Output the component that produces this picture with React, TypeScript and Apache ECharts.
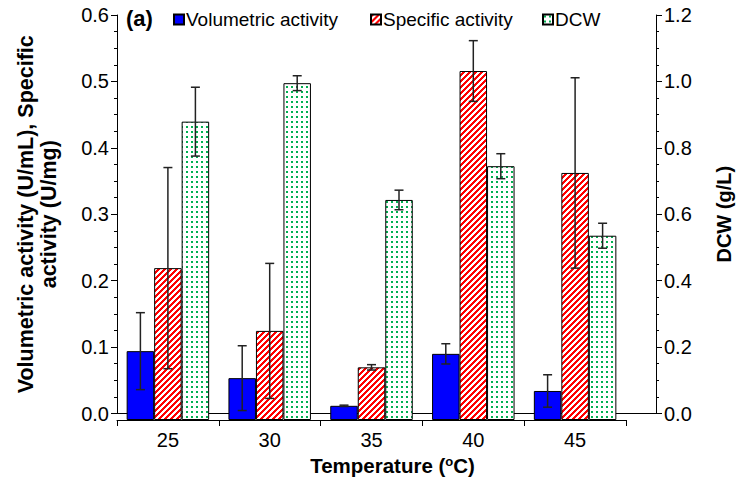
import React, { useEffect, useRef } from "react";
import * as echarts from "echarts";

const temperatures = ["25", "30", "35", "40", "45"];
const volumetric = [0.102, 0.062, 0.021, 0.098, 0.043];
const volumetricErr = [0.057, 0.048, 0.001, 0.015, 0.024];
const specific = [0.225, 0.132, 0.078, 0.517, 0.366];
const specificErr = [0.149, 0.1, 0.004, 0.045, 0.141];
const dcw = [0.884, 0.998, 0.652, 0.752, 0.546];
const dcwErr = [0.102, 0.022, 0.029, 0.037, 0.037];
const seriesNames = ["Volumetric activity", "Specific activity", "DCW"];
const leftTicks = { min: 0, max: 0.6, interval: 0.1 };
const rightTicks = { min: 0, max: 1.2, interval: 0.2 };

const FONT = "Liberation Sans, Arial, sans-serif";
const BAR_W = 27.5;

function stripeTile() {
  const p = 6;
  const c = document.createElement("canvas");
  c.width = p;
  c.height = p;
  const ctx = c.getContext("2d")!;
  ctx.fillStyle = "#ffffff";
  ctx.fillRect(0, 0, p, p);
  ctx.fillStyle = "#ff0000";
  for (let x = 0; x < p; x++) {
    for (let y = 0; y < p; y++) {
      if ((x + y) % p < 3) ctx.fillRect(x, y, 1, 1);
    }
  }
  return { image: c, repeat: "repeat", imageWidth: p, imageHeight: p };
}

function dotTile() {
  const p = 5;
  const c = document.createElement("canvas");
  c.width = p;
  c.height = p;
  const ctx = c.getContext("2d")!;
  ctx.fillStyle = "#ffffff";
  ctx.fillRect(0, 0, p, p);
  ctx.fillStyle = "#00b050";
  ctx.fillRect(1, 1, 2, 2);
  return { image: c, repeat: "repeat", imageWidth: p, imageHeight: p };
}

export default function App() {
  const ref = useRef<HTMLDivElement>(null);
  useEffect(() => {
    if (!ref.current) return;
    const chart = echarts.init(ref.current, null, { renderer: "svg" });

    const errSeries = (name: string, vals: number[], errs: number[], offset: number, yIdx: number) => ({
      type: "custom",
      name: name + "_err",
      xAxisIndex: 1,
      yAxisIndex: yIdx,
      z: 10,
      silent: true,
      data: vals.map((v, i) => [i, v, errs[i]]),
      renderItem: (params: any, api: any) => {
        const x = api.value(0);
        const v = api.value(1);
        const e = api.value(2);
        const top = api.coord([x, v + e]);
        const bot = api.coord([x, v - e]);
        const cx = top[0] + offset;
        const cap = 4.5;
        const st = { stroke: "#222", lineWidth: 1.5 };
        return {
          type: "group",
          children: [
            { type: "line", shape: { x1: cx, y1: top[1], x2: cx, y2: bot[1] }, style: st },
            { type: "line", shape: { x1: cx - cap, y1: top[1], x2: cx + cap, y2: top[1] }, style: st },
            { type: "line", shape: { x1: cx - cap, y1: bot[1], x2: cx + cap, y2: bot[1] }, style: st },
          ],
        };
      },
    });

    const axisLabelStyle = { color: "#000", fontSize: 20, fontFamily: FONT };
    const lineStyle = { color: "#000", width: 1 };
    const legendLefts = [173, 370, 542];

    chart.setOption({
      animation: false,
      textStyle: { fontFamily: FONT },
      grid: [
        { left: 117, right: 78, top: 15, bottom: 61 },
        { left: 117, width: 509, top: 15, bottom: 61 },
      ],
      legend: seriesNames.map((n, i) => ({
        data: [n],
        left: legendLefts[i],
        top: 10,
        padding: 0,
        itemWidth: 10,
        itemHeight: 10,
        icon: "rect",
        textStyle: { color: "#000", fontSize: 19, fontFamily: FONT, padding: [0, 0, 0, -3] },
      })),
      graphic: [
        {
          type: "text",
          left: 126,
          top: 7,
          style: { text: "(a)", fontSize: 22, fontWeight: "bold", fontFamily: FONT, fill: "#000" },
        },
      ],
      xAxis: [
        {
          gridIndex: 0,
          type: "value",
          min: 0,
          max: 1,
          axisLine: { show: true, lineStyle },
          axisTick: { show: false },
          axisLabel: { show: false },
          splitLine: { show: false },
          name: "{a|Temperature (}{s|o}{a|C)}",
          nameLocation: "middle",
          nameGap: 41,
          nameTextStyle: {
            padding: [0, 0, 0, 12],
            rich: {
              a: { fontSize: 20.5, fontWeight: "bold", fontFamily: FONT, color: "#000" },
              s: { fontSize: 13, fontWeight: "bold", fontFamily: FONT, color: "#000", verticalAlign: "top", padding: [0, 0, 9, 0] },
            },
          },
        },
        {
          gridIndex: 1,
          type: "category",
          data: temperatures,
          axisLine: { show: true, lineStyle },
          axisTick: { show: true, length: 6, lineStyle },
          axisLabel: { ...axisLabelStyle, margin: 10 },
          splitLine: { show: false },
        },
      ],
      yAxis: [
        {
          gridIndex: 0,
          type: "value",
          position: "left",
          min: leftTicks.min,
          max: leftTicks.max,
          interval: leftTicks.interval,
          axisLine: { show: true, lineStyle },
          axisTick: { show: true, length: 6, lineStyle },
          minorTick: { show: true, splitNumber: 4, length: 3, lineStyle },
          splitLine: { show: false },
          axisLabel: { ...axisLabelStyle, margin: 8, formatter: (v: number) => v.toFixed(1) },
          name: "Volumetric activity (U/mL), Specific\nactivity (U/mg)",
          nameLocation: "middle",
          nameGap: 57,
          nameTextStyle: { fontSize: 21.5, fontWeight: "bold", fontFamily: FONT, color: "#000", lineHeight: 23 },
        },
        {
          gridIndex: 0,
          type: "value",
          position: "right",
          min: rightTicks.min,
          max: rightTicks.max,
          interval: rightTicks.interval,
          axisLine: { show: true, lineStyle },
          axisTick: { show: true, length: 6, lineStyle },
          minorTick: { show: true, splitNumber: 4, length: 3, lineStyle },
          splitLine: { show: false },
          axisLabel: { ...axisLabelStyle, margin: 8, formatter: (v: number) => v.toFixed(1) },
          name: "DCW (g/L)",
          nameLocation: "middle",
          nameGap: 58,
          nameRotate: 90,
          nameTextStyle: { fontSize: 20, fontWeight: "bold", fontFamily: FONT, color: "#000" },
        },
        { gridIndex: 1, type: "value", show: false, min: leftTicks.min, max: leftTicks.max, interval: leftTicks.interval },
        { gridIndex: 1, type: "value", show: false, min: rightTicks.min, max: rightTicks.max, interval: rightTicks.interval },
      ],
      series: [
        {
          type: "bar",
          name: seriesNames[0],
          xAxisIndex: 1,
          yAxisIndex: 2,
          barWidth: BAR_W,
          barGap: "0%",
          data: volumetric,
          itemStyle: { color: "#0000ff", borderColor: "#000", borderWidth: 1 },
        },
        {
          type: "bar",
          name: seriesNames[1],
          xAxisIndex: 1,
          yAxisIndex: 2,
          barWidth: BAR_W,
          barGap: "0%",
          data: specific,
          itemStyle: { color: stripeTile(), borderColor: "#000", borderWidth: 1 },
        },
        {
          type: "bar",
          name: seriesNames[2],
          xAxisIndex: 1,
          yAxisIndex: 3,
          barWidth: BAR_W,
          barGap: "0%",
          data: dcw,
          itemStyle: { color: dotTile(), borderColor: "#000", borderWidth: 1 },
        },
        errSeries(seriesNames[0], volumetric, volumetricErr, -BAR_W, 2),
        errSeries(seriesNames[1], specific, specificErr, 0, 2),
        errSeries(seriesNames[2], dcw, dcwErr, BAR_W, 3),
      ],
    });
    return () => chart.dispose();
  }, []);
  return <div ref={ref} style={{ position: "fixed", left: 0, top: 0, width: 742, height: 481, background: "#fff" }} />;
}
